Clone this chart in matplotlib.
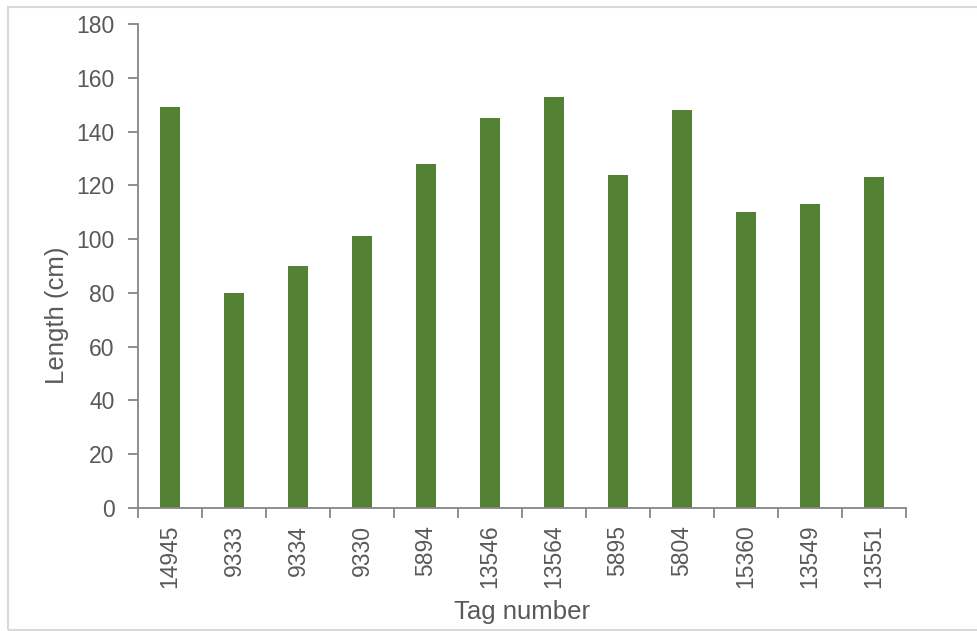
import matplotlib.pyplot as plt
import numpy as np
from matplotlib.patches import Rectangle

plt.rcParams['font.family'] = ['Liberation Sans', 'DejaVu Sans']

# fish lengths by tag
tags = ["14945", "9333", "9334", "9330", "5894", "13546",
        "13564", "5895", "5804", "15360", "13549", "13551"]
lengths = [149, 80, 90, 101, 128, 145, 153, 124, 148, 110, 113, 123]

text_color = "#595959"
axis_color = "#868686"

fig = plt.figure(figsize=(9.78, 6.31), dpi=100)
ax = fig.add_axes([138 / 978, 1 - 508 / 631, 768 / 978, 484 / 631])

x = np.arange(len(tags))
ax.bar(x, lengths, width=0.3125, color="#548235", zorder=2)

ax.set_xlim(-0.5, len(tags) - 0.5)
ax.set_ylim(0, 180)
ax.set_yticks(np.arange(0, 181, 20))

# category labels at bar centres, tick marks between categories
ax.set_xticks(x)
ax.set_xticklabels(tags, rotation=90)
ax.set_xticks(np.arange(-0.5, len(tags), 1), minor=True)
ax.tick_params(axis="x", which="major", length=0, pad=12)
ax.tick_params(axis="x", which="minor", length=7, width=1.3, color=axis_color)
ax.tick_params(axis="y", length=7, width=1.3, color=axis_color, pad=10)
ax.tick_params(labelsize=16.5, labelcolor=text_color)

for side in ["top", "right"]:
    ax.spines[side].set_visible(False)
for side in ["left", "bottom"]:
    ax.spines[side].set_color(axis_color)
    ax.spines[side].set_linewidth(1.3)

ax.set_ylabel("Length (cm)", fontsize=18.5, color=text_color)
ax.yaxis.set_label_coords(57 / 978, 0.5, transform=fig.transFigure)
ax.set_xlabel("Tag number", fontsize=18.5, color=text_color)
ax.xaxis.set_label_coords(522 / 978, 1 - 612 / 631, transform=fig.transFigure)
ax.xaxis.label.set_va("center")
ax.yaxis.label.set_va("center")

# light frame around the chart area
fig.patches.append(Rectangle((8 / 978, 1 / 631), 1.0, 623.5 / 631,
                             transform=fig.transFigure, fill=False,
                             edgecolor="#d9d9d9", linewidth=1.5))

fig.savefig("out.png", dpi=100)
